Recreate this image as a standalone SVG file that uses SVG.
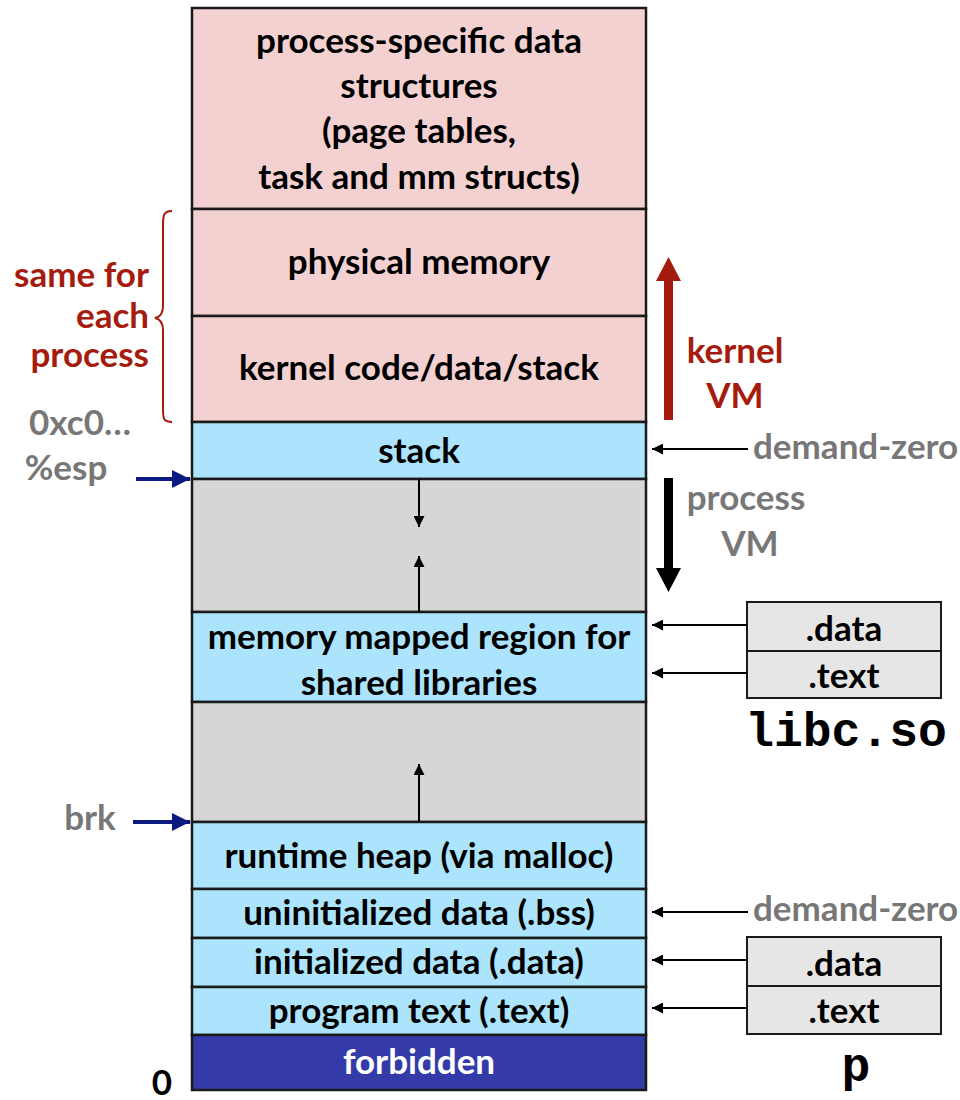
<svg xmlns="http://www.w3.org/2000/svg" width="960" height="1100" viewBox="0 0 960 1100">
  <style>
    .seg { stroke: #1a1a1a; stroke-width: 2.5; }
    .kern { fill: #f3d1d1; }
    .user { fill: #abe4fc; }
    .free { fill: #d6d6d6; }
    .forb { fill: #343ba8; }
    .file { fill: #e6e6e6; stroke: #1a1a1a; stroke-width: 2; }
    .lbl { font-family: Lato, "Liberation Sans", sans-serif; font-weight: 700; font-size: 35px; fill: #000; text-anchor: middle; }
    .gray { font-family: Lato, "Liberation Sans", sans-serif; font-weight: 700; font-size: 35px; fill: #777777; }
    .red { font-family: Lato, "Liberation Sans", sans-serif; font-weight: 700; font-size: 35px; fill: #a51c0e; }
    .mono { font-family: "Liberation Mono", "Courier New", monospace; font-weight: 700; font-size: 48px; fill: #000; }
    .thin { stroke: #000; stroke-width: 2; fill: none; }
    .navy { stroke: #0b1a80; stroke-width: 4; fill: none; }
  </style>
  <defs>
    <marker id="ahs" viewBox="0 0 10 10" refX="10" refY="5" markerWidth="12" markerHeight="11" markerUnits="userSpaceOnUse" orient="auto">
      <path d="M0,0 L10,5 L0,10 z" fill="#000"/>
    </marker>
    <marker id="ahn" viewBox="0 0 10 10" refX="10" refY="5" markerWidth="18" markerHeight="19" markerUnits="userSpaceOnUse" orient="auto">
      <path d="M0,0 L10,5 L0,10 z" fill="#0b1a80"/>
    </marker>
  </defs>

  <!-- address space column -->
  <g id="proc-data">
    <rect class="seg kern" x="192" y="8" width="454" height="201"/>
    <text class="lbl" x="419" y="53">process-specific data</text>
    <text class="lbl" x="419" y="98">structures</text>
    <text class="lbl" x="419" y="143">(page tables,</text>
    <text class="lbl" x="419" y="189">task and mm structs)</text>
  </g>
  <g id="phys-mem">
    <rect class="seg kern" x="192" y="209" width="454" height="107"/>
    <text class="lbl" x="419" y="274">physical memory</text>
  </g>
  <g id="kernel-code">
    <rect class="seg kern" x="192" y="316" width="454" height="106"/>
    <text class="lbl" x="419" y="380">kernel code/data/stack</text>
  </g>
  <g id="stack">
    <rect class="seg user" x="192" y="422" width="454" height="57"/>
    <text class="lbl" x="419" y="463">stack</text>
  </g>
  <g id="gap-upper">
    <rect class="seg free" x="192" y="479" width="454" height="133"/>
  </g>
  <g id="shared-libs">
    <rect class="seg user" x="192" y="612" width="454" height="90"/>
    <text class="lbl" x="419" y="649">memory mapped region for</text>
    <text class="lbl" x="419" y="695">shared libraries</text>
  </g>
  <g id="gap-lower">
    <rect class="seg free" x="192" y="702" width="454" height="120"/>
  </g>
  <g id="heap">
    <rect class="seg user" x="192" y="822" width="454" height="67"/>
    <text class="lbl" x="419" y="868">runtime heap (via malloc)</text>
  </g>
  <g id="bss">
    <rect class="seg user" x="192" y="889" width="454" height="49"/>
    <text class="lbl" x="419" y="925">uninitialized data (.bss)</text>
  </g>
  <g id="data">
    <rect class="seg user" x="192" y="938" width="454" height="49"/>
    <text class="lbl" x="419" y="974">initialized data (.data)</text>
  </g>
  <g id="text">
    <rect class="seg user" x="192" y="987" width="454" height="48"/>
    <text class="lbl" x="419" y="1023">program text (.text)</text>
  </g>
  <g id="forbidden">
    <rect class="seg forb" x="192" y="1035" width="454" height="55"/>
    <text class="lbl" x="419" y="1074" style="fill:#fff">forbidden</text>
  </g>

  <!-- left side annotations -->
  <g id="same-label">
    <path d="M172,211 C163,211 163,216 163,226 L163,306 C163,314 160,317 155,318 C160,319 163,322 163,330 L163,408 C163,418 163,422 172,422" fill="none" stroke="#a51c0e" stroke-width="2"/>
    <text class="red" x="149" y="287" text-anchor="end">same for</text>
    <text class="red" x="149" y="328" text-anchor="end">each</text>
    <text class="red" x="149" y="367" text-anchor="end">process</text>
  </g>
  <g id="addr-labels">
    <text class="gray" x="80" y="435" text-anchor="middle">0xc0…</text>
    <text class="gray" x="66" y="480" text-anchor="middle">%esp</text>
    <text class="gray" x="90" y="830" text-anchor="middle">brk</text>
    <text class="lbl" x="162" y="1095">0</text>
  </g>

  <!-- right side annotations -->
  <g id="vm-labels">
    <text class="red" x="735" y="363" text-anchor="middle">kernel</text>
    <text class="red" x="735" y="408" text-anchor="middle">VM</text>
    <text class="gray" x="746" y="510" text-anchor="middle">process</text>
    <text class="gray" x="750" y="556" text-anchor="middle">VM</text>
    <text class="gray" x="753" y="459">demand-zero</text>
    <text class="gray" x="753" y="921">demand-zero</text>
  </g>
  <g id="libc">
    <rect class="file" x="747" y="602" width="194" height="49"/>
    <rect class="file" x="747" y="651" width="194" height="47"/>
    <text class="lbl" x="844" y="641">.data</text>
    <text class="lbl" x="844" y="688">.text</text>
    <text class="mono" x="846" y="746" text-anchor="middle">libc.so</text>
  </g>
  <g id="p-file">
    <rect class="file" x="747" y="937" width="194" height="49"/>
    <rect class="file" x="747" y="986" width="194" height="48"/>
    <text class="lbl" x="844" y="976">.data</text>
    <text class="lbl" x="844" y="1023">.text</text>
    <text class="mono" x="856" y="1081" text-anchor="middle">p</text>
  </g>

  <!-- connectors -->
  <g id="connectors">
    <line class="thin" x1="419" y1="479" x2="419" y2="527" marker-end="url(#ahs)"/>
    <line class="thin" x1="419" y1="612" x2="419" y2="556" marker-end="url(#ahs)"/>
    <line class="thin" x1="419" y1="822" x2="419" y2="764" marker-end="url(#ahs)"/>
    <line class="thin" x1="748" y1="449" x2="652" y2="449" marker-end="url(#ahs)"/>
    <line class="thin" x1="747" y1="625" x2="652" y2="625" marker-end="url(#ahs)"/>
    <line class="thin" x1="747" y1="673" x2="652" y2="673" marker-end="url(#ahs)"/>
    <line class="thin" x1="748" y1="912" x2="652" y2="912" marker-end="url(#ahs)"/>
    <line class="thin" x1="747" y1="960" x2="652" y2="960" marker-end="url(#ahs)"/>
    <line class="thin" x1="747" y1="1008" x2="652" y2="1008" marker-end="url(#ahs)"/>
    <line class="navy" x1="136" y1="479" x2="190" y2="479" marker-end="url(#ahn)"/>
    <line class="navy" x1="133" y1="822" x2="190" y2="822" marker-end="url(#ahn)"/>
    <!-- kernel VM / process VM direction arrows -->
    <path d="M664,420 L664,281 L656,281 L668.5,257 L681,281 L673,281 L673,420 z" fill="#a51c0e"/>
    <path d="M664,478 L664,568 L656,568 L668.5,592 L681,568 L673,568 L673,478 z" fill="#000"/>
  </g>
</svg>
